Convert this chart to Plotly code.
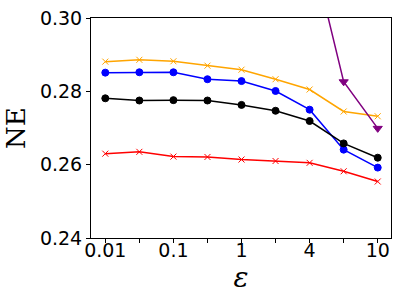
import plotly.graph_objects as go

eps_labels = ["0.01", "0.03", "0.1", "0.3", "1", "2", "4", "7", "10"]
shown_labels = ["0.01", "", "0.1", "", "1", "", "4", "", "10"]

orange = [0.2881, 0.2886, 0.2882, 0.2870, 0.2859, 0.2833, 0.2805, 0.2745, 0.2732]
blue = [0.2851, 0.2852, 0.2852, 0.2833, 0.2828, 0.2801, 0.2750, 0.2641, 0.2592]
black = [0.2781, 0.2775, 0.2776, 0.2775, 0.2763, 0.2747, 0.2719, 0.2658, 0.2619]
red = [0.2630, 0.2635, 0.2622, 0.2621, 0.2614, 0.2610, 0.2605, 0.2582, 0.2554]
purple = [None, None, None, None, None, None, 0.3210, 0.2826, 0.2699]

x = list(range(len(eps_labels)))

fig = go.Figure()
def add(vals, color, symbol, size):
    fig.add_trace(go.Scatter(x=x, y=vals, mode="lines+markers",
                             line=dict(color=color, width=1.5),
                             marker=dict(color=color, symbol=symbol, size=size,
                                         line=dict(color=color, width=1)),
                             connectgaps=False, showlegend=False))

add(orange, "orange", "x-thin", 6)
add(blue, "blue", "circle", 7)
add(black, "black", "circle", 7)
add(red, "red", "x-thin", 6)
add(purple, "purple", "triangle-down", 8)

fig.update_layout(
    width=399, height=303,
    margin=dict(l=91, r=7, t=14, b=65),
    plot_bgcolor="white", paper_bgcolor="white",
    font=dict(family="DejaVu Sans", size=19, color="black"),
)
fig.update_xaxes(range=[-0.42, 8.39], tickvals=x, ticktext=shown_labels,
                 ticks="outside", ticklen=4, tickcolor="black",
                 ticklabelstandoff=-9,
                 showline=True, linecolor="black", linewidth=1, mirror=True,
                 showgrid=False, zeroline=False,
                 title=dict(text="<i>ε</i>", font=dict(family="DejaVu Serif", size=28), standoff=2))
fig.update_yaxes(range=[0.24, 0.30], tickvals=[0.24, 0.26, 0.28, 0.30],
                 ticktext=["0.24", "0.26", "0.28", "0.30"],
                 ticks="outside", ticklen=4, tickcolor="black",
                 showline=True, linecolor="black", linewidth=1, mirror=True,
                 showgrid=False, zeroline=False,
                 title=dict(text="NE", font=dict(family="DejaVu Serif", size=26), standoff=6))

fig.write_html("out.html", config={"displayModeBar": False},
               post_script="document.body.style.margin='0';document.body.style.overflow='hidden';")
